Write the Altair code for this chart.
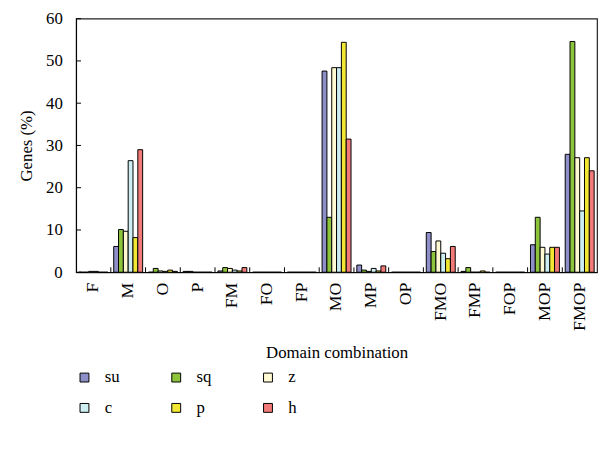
import altair as alt
import pandas as pd

categories = ["F", "M", "O", "P", "FM", "FO", "FP", "MO", "MP", "OP",
              "FMO", "FMP", "FOP", "MOP", "FMOP"]
series = ["su", "sq", "z", "c", "p", "h"]

su = [0.0, 6.1, 0.0, 0.2, 0.3, 0, 0, 47.6, 1.7, 0, 9.4, 0.2, 0, 6.5, 27.9]
sq = [0.0, 10.1, 0.9, 0.2, 1.1, 0, 0, 13.0, 0.5, 0, 4.9, 1.1, 0, 13.0, 54.6]
z = [0.2, 9.7, 0.3, 0, 0.9, 0, 0, 48.4, 0.2, 0, 7.4, 0, 0, 5.9, 27.1]
c = [0.2, 26.4, 0.2, 0, 0.5, 0, 0, 48.4, 0.9, 0, 4.5, 0, 0, 4.3, 14.5]
p = [0, 8.2, 0.5, 0, 0.3, 0, 0, 54.4, 0.3, 0, 3.2, 0.3, 0, 5.9, 27.1]
h = [0, 29.0, 0.2, 0, 1.1, 0, 0, 31.5, 1.5, 0, 6.1, 0, 0, 5.9, 24.0]

colors = ["#8e8ec8", "#8cc43c", "#fffad2", "#cdeef2", "#f2e834", "#f27a78"]
y_ticks = [0, 10, 20, 30, 40, 50, 60]

rows = []
for s, vals in zip(series, [su, sq, z, c, p, h]):
    for cat, v in zip(categories, vals):
        rows.append({"cat": cat, "series": s, "value": v})
df = pd.DataFrame(rows)

W, H = 528, 257
FONT = "Liberation Serif"
xscale = alt.Scale(domain=categories, paddingInner=0, paddingOuter=0)
yscale = alt.Scale(domain=[0, 60], nice=False)
xaxis = alt.Axis(title="Domain combination", labelAngle=-90, labelFontSize=18,
                 labelPadding=10, titlePadding=14)
yaxis = alt.Axis(title="Genes (%)", values=y_ticks, labelPadding=14, titlePadding=10)

bars = alt.Chart(df).mark_bar(stroke="black", strokeWidth=1).encode(
    x=alt.X("cat:N", scale=xscale, sort=categories, axis=xaxis),
    xOffset=alt.XOffset("series:N", sort=series,
                        scale=alt.Scale(domain=series, paddingOuter=0.6, paddingInner=0)),
    y=alt.Y("value:Q", scale=yscale, axis=yaxis),
    color=alt.Color("series:N", sort=series,
                    scale=alt.Scale(domain=series, range=colors),
                    legend=alt.Legend(title=None, orient="none", legendX=0, legendY=355,
                                      direction="horizontal", columns=3,
                                      symbolType="square", symbolSize=81,
                                      symbolStrokeColor="black", symbolStrokeWidth=1,
                                      labelFont=FONT, labelFontSize=17, labelColor="black",
                                      labelOffset=12, columnPadding=48, rowPadding=13)),
)

ydf = pd.DataFrame({"v": y_ticks})
yticks = alt.Chart(ydf).mark_rule(color="black", strokeWidth=1).encode(
    y=alt.Y("v:Q", scale=yscale, axis=yaxis),
    x=alt.value(0), x2=alt.value(5),
)

xdf = pd.DataFrame({"cat": categories[1:]})
xticks = alt.Chart(xdf).mark_rule(color="black", strokeWidth=1).encode(
    x=alt.X("cat:N", scale=xscale, sort=categories, bandPosition=0, axis=xaxis),
    y=alt.value(H - 5), y2=alt.value(H),
)

chart = alt.layer(bars, yticks, xticks).properties(
    width=W, height=H,
    padding={"left": 69, "top": 8, "right": 3, "bottom": 150},
    autosize="none",
).configure_view(
    stroke="#222", strokeWidth=1.2
).configure_axis(
    labelFont=FONT, labelFontSize=17, labelColor="black",
    titleFont=FONT, titleFontSize=17, titleFontWeight="normal", titleColor="black",
    domainColor="black", ticks=False, grid=False,
).configure_legend(
    labelFont=FONT, labelFontSize=17, labelColor="black",
)

chart.save("out.html", embed_options={"renderer": "svg", "actions": False})
